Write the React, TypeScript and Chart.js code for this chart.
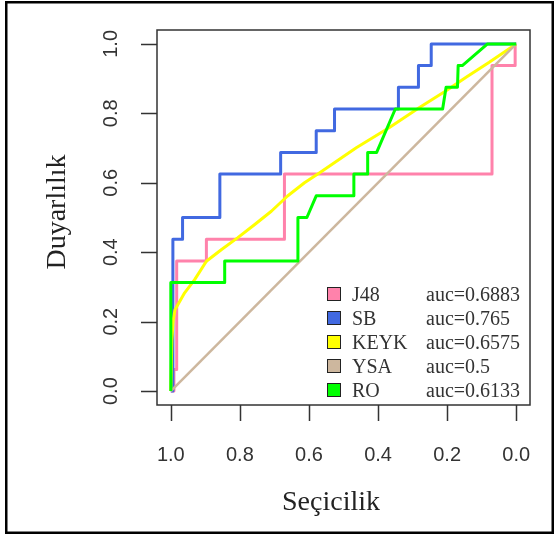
import React, { useEffect, useRef } from "react";
import { Chart, registerables } from "chart.js";
Chart.register(...registerables);

// ---- data (specificity, sensitivity) ----
const seriesNames = ["J48", "SB", "KEYK", "YSA", "RO"];
const aucLabels = ["auc=0.6883", "auc=0.765", "auc=0.6575", "auc=0.5", "auc=0.6133"];
const seriesColors = ["#FF82AB", "#4169E1", "#FFFF00", "#CDB79E", "#00FF00"];

const j48Spec = [1.0, 0.991, 0.991, 0.983, 0.983, 0.897, 0.897, 0.671, 0.671, 0.07, 0.07, 0.003, 0.003, 0.0];
const j48Sens = [0.0, 0.0, 0.0625, 0.0625, 0.375, 0.375, 0.4375, 0.4375, 0.625, 0.625, 0.9375, 0.9375, 1.0, 1.0];

const sbSpec = [1.0, 0.994, 0.994, 0.966, 0.966, 0.858, 0.858, 0.682, 0.682, 0.579, 0.579, 0.526, 0.526, 0.341, 0.341, 0.283, 0.283, 0.246, 0.246, 0.0];
const sbSens = [0.0, 0.0, 0.4375, 0.4375, 0.5, 0.5, 0.625, 0.625, 0.6875, 0.6875, 0.75, 0.75, 0.8125, 0.8125, 0.875, 0.875, 0.9375, 0.9375, 1.0, 1.0];

const keykSpec = [1.0, 0.997, 0.993, 0.988, 0.96, 0.931, 0.897, 0.853, 0.806, 0.757, 0.709, 0.662, 0.613, 0.569, 0.463, 0.367, 0.28, 0.203, 0.145, 0.078, 0.0];
const keykSens = [0.0, 0.147, 0.205, 0.234, 0.283, 0.321, 0.374, 0.408, 0.442, 0.48, 0.518, 0.562, 0.6, 0.629, 0.701, 0.759, 0.817, 0.865, 0.904, 0.947, 1.0];

const ysaSpec = [1.0, 0.0];
const ysaSens = [0.0, 1.0];

const roSpec = [1.0, 1.0, 0.844, 0.844, 0.632, 0.632, 0.606, 0.579, 0.47, 0.47, 0.43, 0.43, 0.404, 0.35, 0.213, 0.203, 0.17, 0.168, 0.156, 0.083, 0.0];
const roSens = [0.0, 0.3125, 0.3125, 0.375, 0.375, 0.5, 0.5, 0.5625, 0.5625, 0.625, 0.625, 0.6875, 0.6875, 0.8125, 0.8125, 0.875, 0.875, 0.9375, 0.9375, 1.0, 1.0];

const xTicks = [1.0, 0.8, 0.6, 0.4, 0.2, 0.0];
const xTickLabels = ["1.0", "0.8", "0.6", "0.4", "0.2", "0.0"];
const yTicks = [0.0, 0.2, 0.4, 0.6, 0.8, 1.0];
const yTickLabels = ["0.0", "0.2", "0.4", "0.6", "0.8", "1.0"];
const xTitle = "Seçicilik";
const yTitle = "Duyarlılık";

const allSpec = [j48Spec, sbSpec, keykSpec, ysaSpec, roSpec];
const allSens = [j48Sens, sbSens, keykSens, ysaSens, roSens];

const decor = {
  id: "decor",
  beforeDraw(chart: any) {
    const ctx = chart.ctx;
    ctx.save();
    ctx.fillStyle = "#ffffff";
    ctx.fillRect(0, 0, chart.width, chart.height);
    ctx.strokeStyle = "#000000";
    ctx.lineWidth = 2.5;
    ctx.strokeRect(6.25, 2.25, 546.5, 530.5);
    ctx.restore();
  },
  afterDraw(chart: any) {
    const ctx = chart.ctx;
    const a = chart.chartArea;
    const xs = chart.scales.x;
    const ys = chart.scales.y;
    ctx.save();
    ctx.strokeStyle = "#333333";
    ctx.lineWidth = 1.5;
    ctx.strokeRect(a.left, a.top, a.right - a.left, a.bottom - a.top);
    ctx.beginPath();
    xTicks.forEach((v) => {
      const px = Math.round(xs.getPixelForValue(v)) + 0.5;
      ctx.moveTo(px, a.bottom);
      ctx.lineTo(px, a.bottom + 16);
    });
    yTicks.forEach((v) => {
      const py = Math.round(ys.getPixelForValue(v)) + 0.5;
      ctx.moveTo(a.left, py);
      ctx.lineTo(a.left - 16, py);
    });
    ctx.stroke();

    ctx.fillStyle = "#333333";
    ctx.font = "20px 'Liberation Sans', Arial, sans-serif";
    ctx.textAlign = "center";
    ctx.textBaseline = "middle";
    xTicks.forEach((v, i) => {
      ctx.fillText(xTickLabels[i], xs.getPixelForValue(v), 455);
    });
    yTicks.forEach((v, i) => {
      ctx.save();
      ctx.translate(111, ys.getPixelForValue(v));
      ctx.rotate(-Math.PI / 2);
      ctx.fillText(yTickLabels[i], 0, 0);
      ctx.restore();
    });

    ctx.fillStyle = "#222222";
    ctx.font = "28px 'Liberation Serif', 'Times New Roman', serif";
    ctx.fillText(xTitle, 331, 503);
    ctx.save();
    ctx.translate(58, 212);
    ctx.rotate(-Math.PI / 2);
    ctx.fillText(yTitle, 0, 0);
    ctx.restore();

    // legend
    ctx.font = "20px 'Liberation Serif', 'Times New Roman', serif";
    ctx.textAlign = "left";
    ctx.textBaseline = "alphabetic";
    seriesNames.forEach((name, i) => {
      const cy = 294 + i * 24;
      ctx.fillStyle = seriesColors[i];
      ctx.fillRect(327.5, cy - 6.5, 13, 13);
      ctx.strokeStyle = "#222222";
      ctx.lineWidth = 1;
      ctx.strokeRect(327.5, cy - 6.5, 13, 13);
      ctx.fillStyle = "#333333";
      ctx.fillText(name, 352, cy + 7);
      ctx.fillText(aucLabels[i], 426, cy + 7);
    });
    ctx.restore();
  },
};

export default function App() {
  const ref = useRef<HTMLCanvasElement | null>(null);
  useEffect(() => {
    if (!ref.current) return;
    const datasets = seriesNames.map((name, i) => ({
      label: name,
      data: allSpec[i].map((s, j) => ({ x: s, y: allSens[i][j] })),
      borderColor: seriesColors[i],
      backgroundColor: seriesColors[i],
      borderWidth: i === 3 ? 2.5 : 3,
      pointRadius: 0,
      tension: 0,
      fill: false,
      showLine: true,
      borderJoinStyle: "round" as const,
      order: 5 - i,
    }));
    const chart = new Chart(ref.current, {
      type: "line",
      data: { datasets },
      options: {
        responsive: false,
        animation: false,
        layout: { padding: { left: 157, top: 30, right: 28, bottom: 131 } },
        scales: {
          x: { type: "linear", min: -0.04, max: 1.04, reverse: true, display: false },
          y: { type: "linear", min: -0.04, max: 1.04, display: false },
        },
        plugins: { legend: { display: false }, tooltip: { enabled: false } },
      },
      plugins: [decor],
    });
    return () => chart.destroy();
  }, []);
  return (
    <div style={{ position: "fixed", left: 0, top: 0, width: 558, height: 536 }}>
      <canvas ref={ref} width={558} height={536} style={{ display: "block" }} />
    </div>
  );
}
